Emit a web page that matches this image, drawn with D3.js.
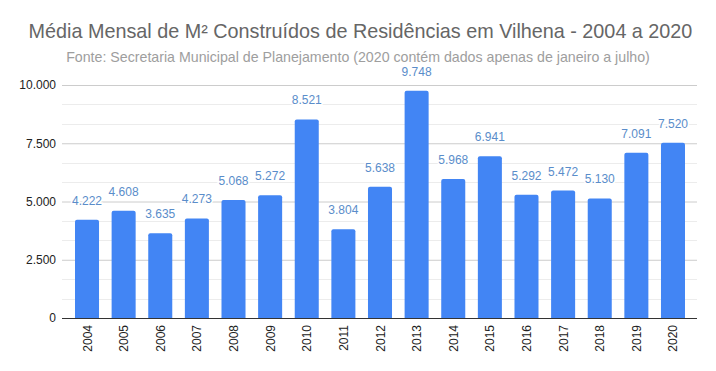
<!DOCTYPE html>
<html>
<head>
<meta charset="utf-8">
<script src="https://cdn.jsdelivr.net/npm/d3@7"></script>
<style>
  body { margin: 0; background: #fff; }
  text { font-family: "Liberation Sans", Arial, sans-serif; }
</style>
</head>
<body>
<svg id="chart" width="716" height="371"></svg>
<script>
// data
var years = ["2004","2005","2006","2007","2008","2009","2010","2011","2012",
             "2013","2014","2015","2016","2017","2018","2019","2020"];
var values = [4222, 4608, 3635, 4273, 5068, 5272, 8521, 3804, 5638,
              9748, 5968, 6941, 5292, 5472, 5130, 7091, 7520];
var yTicks = [0, 2500, 5000, 7500, 10000];

var svg = d3.select("#chart");
var margin = {top: 85, right: 19, bottom: 53, left: 62};
var W = 716, H = 371;

var fmt = d3.formatLocale({decimal: ",", thousands: ".", grouping: [3], currency: ["", ""]}).format(",.0f");

var x = d3.scaleBand().domain(years)
   .range([68.7, 691.3])
   .paddingInner(0.344).paddingOuter(0.172);
var y = d3.scaleLinear().domain([0, 10000]).range([H - margin.bottom, margin.top]);

// title
svg.append("text")
   .attr("x", 360.5).attr("y", 37.5)
   .attr("text-anchor", "middle")
   .style("font-size", "19.8px").style("fill", "#666")
   .text("Média Mensal de M² Construídos de Residências em Vilhena - 2004 a 2020");
svg.append("text")
   .attr("x", 358).attr("y", 62)
   .attr("text-anchor", "middle")
   .style("font-size", "14.2px").style("fill", "#9e9e9e")
   .text("Fonte: Secretaria Municipal de Planejamento (2020 contém dados apenas de janeiro a julho)");

// minor gridlines
var minor = d3.range(0, 10001, 2500 / 3).filter(function(v) { return Math.round(v) % 2500 != 0; });
svg.append("g").selectAll("line").data(minor).join("line")
   .attr("x1", margin.left).attr("x2", W - margin.right)
   .attr("y1", function(d) { return Math.round(y(d)) + 0.5; })
   .attr("y2", function(d) { return Math.round(y(d)) + 0.5; })
   .attr("stroke", "#ececec");

// y axis with major gridlines
var yAxis = svg.append("g")
   .attr("transform", "translate(" + margin.left + ",0)")
   .call(d3.axisLeft(y).tickValues(yTicks).tickFormat(fmt)
      .tickSize(-(W - margin.left - margin.right)).tickPadding(6));
yAxis.select(".domain").remove();
yAxis.selectAll(".tick line").attr("stroke", "#cccccc");
yAxis.selectAll(".tick text").style("font-size", "12px").style("fill", "#222");

// bars with slightly rounded tops
var r = 2;
svg.append("g").selectAll("path").data(values).join("path")
   .attr("fill", "#4285f4")
   .attr("d", function(d, i) {
      var x0 = x(years[i]), w = x.bandwidth(), y0 = y(d), yb = y(0);
      return "M" + x0 + "," + yb + "V" + (y0 + r) +
         "Q" + x0 + "," + y0 + " " + (x0 + r) + "," + y0 +
         "H" + (x0 + w - r) +
         "Q" + (x0 + w) + "," + y0 + " " + (x0 + w) + "," + (y0 + r) +
         "V" + yb + "Z";
   });

// baseline
svg.append("line")
   .attr("x1", margin.left).attr("x2", W - margin.right)
   .attr("y1", y(0) + 0.5).attr("y2", y(0) + 0.5)
   .attr("stroke", "#333");

// value labels with white halo
svg.append("g").selectAll("text").data(values).join("text")
   .attr("x", function(d, i) { return x(years[i]) + x.bandwidth() / 2; })
   .attr("y", function(d) { return y(d) - 15; })
   .attr("text-anchor", "middle")
   .style("font-size", "12px").style("fill", "#5a8dca")
   .style("stroke", "#fff").style("stroke-width", 3).style("paint-order", "stroke")
   .text(function(d) { return fmt(d); });

// x labels rotated
svg.append("g").selectAll("text").data(years).join("text")
   .attr("transform", function(d) {
      return "translate(" + (x(d) + x.bandwidth() / 2 + 4.5) + "," + (y(0) + 7) + ") rotate(-90)";
   })
   .attr("text-anchor", "end")
   .style("font-size", "12px").style("fill", "#222")
   .text(function(d) { return d; });
</script>
</body>
</html>
